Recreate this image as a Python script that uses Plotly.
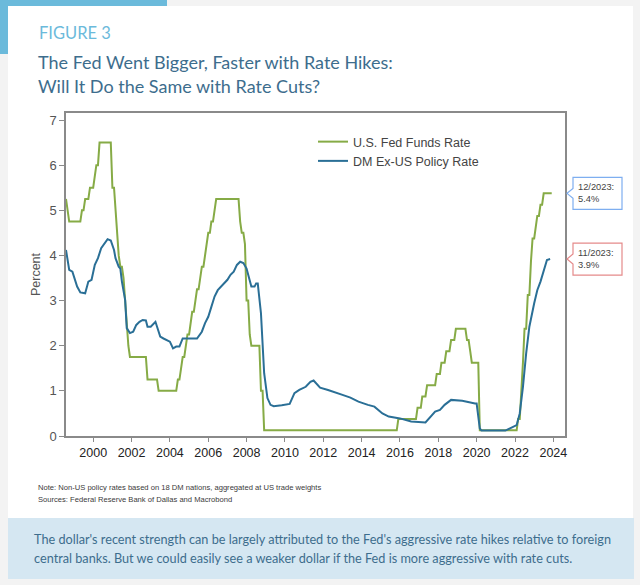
import plotly.graph_objects as go

# ---------------- data ----------------
fed_dates = ["1998-08", "1998-09", "1998-10", "1999-05", "1999-06", "1999-07", "1999-08", "1999-10",
             "1999-11", "2000-01", "2000-02", "2000-03", "2000-04", "2000-05", "2000-12", "2001-01",
             "2001-02", "2001-03", "2001-04", "2001-05", "2001-06", "2001-07", "2001-08", "2001-09",
             "2001-10", "2001-11", "2001-12", "2002-10", "2002-11", "2003-05", "2003-06", "2004-05",
             "2004-06", "2004-07", "2004-08", "2004-09", "2004-10", "2004-11", "2004-12", "2005-01",
             "2005-02", "2005-03", "2005-04", "2005-05", "2005-06", "2005-07", "2005-08", "2005-09",
             "2005-10", "2005-11", "2005-12", "2006-01", "2006-02", "2006-03", "2006-04", "2006-05",
             "2006-06", "2007-08", "2007-09", "2007-10", "2007-11", "2007-12", "2008-01", "2008-02",
             "2008-03", "2008-04", "2008-09", "2008-10", "2008-11", "2008-12", "2015-11", "2015-12",
             "2016-11", "2016-12", "2017-02", "2017-03", "2017-05", "2017-06", "2017-11", "2017-12",
             "2018-02", "2018-03", "2018-05", "2018-06", "2018-08", "2018-09", "2018-11", "2018-12",
             "2019-06", "2019-07", "2019-08", "2019-09", "2019-10", "2020-02", "2020-03", "2022-02",
             "2022-03", "2022-04", "2022-05", "2022-06", "2022-07", "2022-08", "2022-09", "2022-10",
             "2022-11", "2022-12", "2023-01", "2023-02", "2023-03", "2023-04", "2023-05", "2023-06",
             "2023-07", "2023-12"]
fed_values = [5.25, 5.0, 4.75, 4.75, 5.0, 5.0, 5.25, 5.25,
              5.5, 5.5, 5.75, 6.0, 6.0, 6.5, 6.5, 5.5,
              5.5, 5.0, 4.5, 4.0, 3.75, 3.75, 3.5, 3.0,
              2.5, 2.0, 1.75, 1.75, 1.25, 1.25, 1.0, 1.0,
              1.25, 1.25, 1.5, 1.75, 1.75, 2.0, 2.25, 2.25,
              2.5, 2.75, 2.75, 3.0, 3.25, 3.25, 3.5, 3.75,
              3.75, 4.0, 4.25, 4.5, 4.5, 4.75, 4.75, 5.0,
              5.25, 5.25, 4.75, 4.5, 4.5, 4.25, 3.0, 3.0,
              2.25, 2.0, 2.0, 1.0, 1.0, 0.125, 0.125, 0.375,
              0.375, 0.625, 0.625, 0.875, 0.875, 1.125, 1.125, 1.375,
              1.375, 1.625, 1.625, 1.875, 1.875, 2.125, 2.125, 2.375,
              2.375, 2.125, 2.125, 1.875, 1.625, 1.625, 0.125, 0.125,
              0.375, 0.375, 0.875, 1.625, 2.375, 2.375, 3.125, 3.125,
              3.875, 4.375, 4.375, 4.625, 4.875, 4.875, 5.125, 5.125,
              5.375, 5.375]

dm_dates = ["1998-08", "1998-09", "1998-10", "1998-12", "1999-01", "1999-03", "1999-05", "1999-08",
            "1999-10", "1999-12", "2000-02", "2000-04", "2000-06", "2000-08", "2000-10", "2000-12",
            "2001-02", "2001-03", "2001-05", "2001-06", "2001-07", "2001-09", "2001-10", "2001-12",
            "2002-02", "2002-04", "2002-06", "2002-08", "2002-10", "2002-11", "2003-01", "2003-04",
            "2003-05", "2003-07", "2003-09", "2003-11", "2004-01", "2004-03", "2004-05", "2004-07",
            "2004-09", "2005-06", "2005-09", "2005-11", "2006-01", "2006-03", "2006-05", "2006-07",
            "2006-10", "2007-01", "2007-03", "2007-05", "2007-07", "2007-09", "2007-11", "2008-01",
            "2008-02", "2008-04", "2008-06", "2008-07", "2008-08", "2008-10", "2008-12", "2009-02",
            "2009-04", "2009-06", "2009-11", "2010-04", "2010-07", "2010-10", "2011-02", "2011-05",
            "2011-07", "2011-11", "2012-04", "2012-07", "2013-01", "2013-06", "2013-11", "2014-05",
            "2014-09", "2015-02", "2015-06", "2016-01", "2016-08", "2017-05", "2017-08", "2017-11",
            "2018-02", "2018-05", "2018-09", "2019-04", "2019-12", "2020-01", "2020-03", "2020-04",
            "2021-07", "2021-11", "2022-02", "2022-04", "2022-06", "2022-08", "2022-10", "2023-01",
            "2023-03", "2023-05", "2023-07", "2023-09", "2023-11"]
dm_values = [4.12, 3.90, 3.68, 3.64, 3.53, 3.31, 3.18, 3.16,
             3.42, 3.46, 3.79, 3.94, 4.16, 4.27, 4.36, 4.33,
             4.12, 3.94, 3.75, 3.71, 3.42, 3.01, 2.39, 2.28,
             2.31, 2.46, 2.53, 2.57, 2.56, 2.42, 2.42, 2.53,
             2.42, 2.20, 2.16, 2.13, 2.09, 1.94, 1.98, 1.98,
             2.16, 2.16, 2.31, 2.50, 2.64, 2.86, 3.09, 3.23,
             3.35, 3.46, 3.57, 3.64, 3.79, 3.86, 3.83, 3.71,
             3.57, 3.31, 3.31, 3.38, 3.38, 2.72, 1.39, 0.84,
             0.69, 0.66, 0.68, 0.71, 0.95, 1.02, 1.09, 1.20,
             1.23, 1.07, 1.02, 0.98, 0.91, 0.85, 0.76, 0.69,
             0.65, 0.50, 0.43, 0.39, 0.32, 0.30, 0.43, 0.54,
             0.58, 0.69, 0.80, 0.78, 0.72, 0.72, 0.17, 0.12,
             0.12, 0.18, 0.24, 0.50, 1.09, 1.83, 2.42, 2.94,
             3.23, 3.42, 3.68, 3.90, 3.92]

series_names = ["U.S. Fed Funds Rate", "DM Ex-US Policy Rate"]
x_tick_labels = [str(y) for y in range(2000, 2026, 2)]
y_tick_values = [0, 1, 2, 3, 4, 5, 6, 7]

# ---------------- layout geometry ----------------
W, H = 640, 585
L, R, T, B = 66, 75, 113, 149
PW, PH = W - L - R, H - T - B
Y_MAX = 7.155


def px(x):
    return (x - L) / PW


def py(y):
    return (T + PH - y) / PH


def y_pix(v):
    return T + PH - v / Y_MAX * PH


GREEN = "#86ab46"
BLUE = "#2a6f96"
TITLE_C = "#3d6d8d"
ACCENT = "#6bbadb"
BG = "#f3f3f3"

fig = go.Figure()
fig.add_trace(go.Scatter(x=fed_dates, y=fed_values, mode="lines", name=series_names[0],
                         line=dict(color=GREEN, width=2)))
fig.add_trace(go.Scatter(x=dm_dates, y=dm_values, mode="lines", name=series_names[1],
                         line=dict(color=BLUE, width=2)))

shapes = []
shapes.append(dict(type="rect", xref="paper", yref="paper", x0=px(8), x1=px(633), y0=py(518), y1=py(6),
                   fillcolor="white", line=dict(width=0), layer="below"))
shapes.append(dict(type="rect", xref="paper", yref="paper", x0=px(0), x1=px(167), y0=py(6), y1=py(0),
                   fillcolor=ACCENT, line=dict(width=0), layer="below"))
shapes.append(dict(type="rect", xref="paper", yref="paper", x0=px(0), x1=px(8), y0=py(54), y1=py(0),
                   fillcolor=ACCENT, line=dict(width=0), layer="below"))
shapes.append(dict(type="rect", xref="paper", yref="paper", x0=px(8), x1=px(634), y0=py(579), y1=py(518),
                   fillcolor="#d5e7f2", line=dict(width=0), layer="below"))


def callout(v, color):
    cy = y_pix(v)
    x0, x1, xn = 573, 622, 567
    y0, y1 = cy - 16, cy + 16
    pts = [(x0, y0), (x1, y0), (x1, y1), (x0, y1), (x0, cy + 5), (xn, cy), (x0, cy - 5)]
    path = "M " + " L ".join(f"{px(a):.5f},{py(b):.5f}" for a, b in pts) + " Z"
    shapes.append(dict(type="path", xref="paper", yref="paper", path=path, fillcolor="white",
                       line=dict(color=color, width=1.2), layer="above"))


callout(fed_values[-1], "#7eaef0")
callout(dm_values[-1], "#e58a8a")


def lbl(d):
    y, m = d.split("-")
    return f"{int(m)}/{y}"


NOTE_FONT = dict(family="Liberation Sans", size=7.6, color="#3a3a3a")
annotations = [
    dict(text="FIGURE 3", x=px(37), y=py(33), xref="paper", yref="paper", xanchor="left", yanchor="middle",
         showarrow=False, font=dict(family="Lato", size=16.5, color=ACCENT)),
    dict(text="The Fed Went Bigger, Faster with Rate Hikes:", x=px(36), y=py(62), xref="paper", yref="paper",
         xanchor="left", yanchor="middle", showarrow=False,
         font=dict(family="Lato", size=18, color=TITLE_C)),
    dict(text="Will It Do the Same with Rate Cuts?", x=px(36), y=py(86), xref="paper", yref="paper",
         xanchor="left", yanchor="middle", showarrow=False,
         font=dict(family="Lato", size=18, color=TITLE_C)),
    dict(text="Note: Non-US policy rates based on 18 DM nations, aggregated at US trade weights",
         x=px(36), y=py(487), xref="paper", yref="paper", xanchor="left", yanchor="middle", showarrow=False,
         font=NOTE_FONT),
    dict(text="Sources: Federal Reserve Bank of Dallas and Macrobond",
         x=px(36), y=py(499), xref="paper", yref="paper", xanchor="left", yanchor="middle", showarrow=False,
         font=NOTE_FONT),
    dict(text="The dollar's recent strength can be largely attributed to the Fed's aggressive rate hikes relative to foreign",
         x=px(32), y=py(539), xref="paper", yref="paper", xanchor="left", yanchor="middle", showarrow=False,
         font=dict(family="Lato", size=12.7, color=TITLE_C)),
    dict(text="central banks. But we could easily see a weaker dollar if the Fed is more aggressive with rate cuts.",
         x=px(32), y=py(558), xref="paper", yref="paper", xanchor="left", yanchor="middle", showarrow=False,
         font=dict(family="Lato", size=12.7, color=TITLE_C)),
    dict(text=f"{lbl(fed_dates[-1])}:<br>{fed_values[-1]:.1f}%", x=px(576), y=fed_values[-1], xref="paper",
         yref="y", xanchor="left", yanchor="middle", align="left", showarrow=False,
         font=dict(family="Liberation Sans", size=9.3, color="#444")),
    dict(text=f"{lbl(dm_dates[-1])}:<br>{dm_values[-1]:.1f}%", x=px(576), y=dm_values[-1], xref="paper",
         yref="y", xanchor="left", yanchor="middle", align="left", showarrow=False,
         font=dict(family="Liberation Sans", size=9.3, color="#444")),
]

fig.update_layout(
    width=W, height=H,
    margin=dict(l=L, r=R, t=T, b=B),
    paper_bgcolor=BG,
    plot_bgcolor="white",
    shapes=shapes,
    annotations=annotations,
    showlegend=True,
    legend=dict(x=px(313), y=py(127), xanchor="left", yanchor="top", bgcolor="rgba(0,0,0,0)",
                font=dict(family="Liberation Sans", size=12.5, color="#444"), itemwidth=30,
                tracegroupgap=0),
    xaxis=dict(type="date", range=["1998-08-01", "2024-08-10"],
               tickvals=[f"{t}-01-01" for t in x_tick_labels], ticktext=x_tick_labels,
               showgrid=False, zeroline=False, showline=True, mirror=True, linecolor="#8a8a8a", linewidth=1.5,
               ticks="outside", ticklen=4, tickcolor="#8a8a8a",
               tickfont=dict(family="Liberation Sans", size=12.5, color="#222")),
    yaxis=dict(range=[0, Y_MAX], tickvals=y_tick_values, showgrid=False, zeroline=False, showline=True,
               mirror=True, linecolor="#8a8a8a", linewidth=1.5, ticks="outside", ticklen=5, tickcolor="#8a8a8a",
               tickfont=dict(family="Liberation Sans", size=13, color="#555"),
               title=dict(text="Percent", font=dict(family="Liberation Sans", size=12.5, color="#555"), standoff=6)),
)

fig.write_html("out.html", config={"displayModeBar": False},
               post_script="document.body.style.margin='0';document.body.style.background='" + BG + "';")
